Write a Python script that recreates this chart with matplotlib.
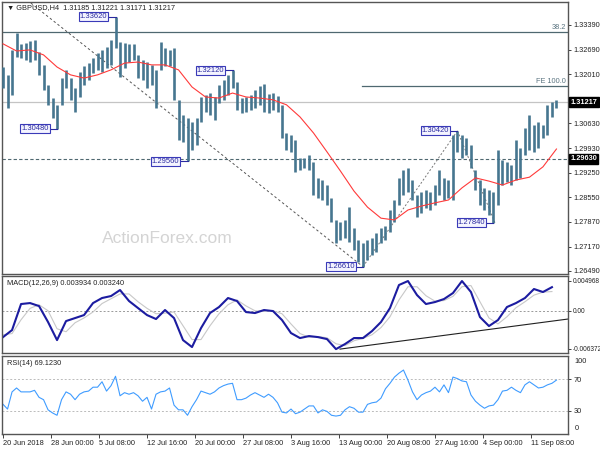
import numpy as np
import matplotlib
matplotlib.use('Agg')
from matplotlib import pyplot as plt

plt.rcParams['font.family'] = ['Liberation Sans', 'DejaVu Sans']

# GBPUSD H4 - one high/low pair every 3 bars
highs = [1.3221, 1.3199, 1.3269, 1.3316, 1.3286, 1.3288, 1.3294, 1.3297, 1.3263, 1.3227,
         1.3171, 1.3134, 1.3115, 1.3190, 1.3213, 1.3190, 1.3162, 1.3207, 1.3224, 1.3232,
         1.3246, 1.3260, 1.3269, 1.3277, 1.3297, 1.3362, 1.3291, 1.3288, 1.3286, 1.3286,
         1.3255, 1.3241, 1.3235, 1.3227, 1.3213, 1.3291, 1.3274, 1.3269, 1.3274, 1.3129,
         1.3087, 1.3078, 1.3067, 1.3078, 1.3137, 1.3143, 1.3148, 1.3137, 1.3171, 1.3185,
         1.3199, 1.3212, 1.3179, 1.3134, 1.3137, 1.3143, 1.3157, 1.3168, 1.3173, 1.3145,
         1.3148, 1.3140, 1.3115, 1.3036, 1.3030, 1.3016, 1.2966, 1.2966, 1.2974, 1.2955,
         1.2910, 1.2904, 1.2890, 1.2854, 1.2792, 1.2786, 1.2792, 1.2828, 1.2770, 1.2736,
         1.2727, 1.2736, 1.2741, 1.2755, 1.2770, 1.2775, 1.2820, 1.2848, 1.2910, 1.2932,
         1.2938, 1.2904, 1.2862, 1.2870, 1.2876, 1.2870, 1.2890, 1.2932, 1.2910, 1.2904,
         1.3030, 1.3042, 1.3030, 1.3022, 1.3002, 1.2932, 1.2904, 1.2882, 1.2876, 1.2870,
         1.2988, 1.2960, 1.2955, 1.2946, 1.3016, 1.2994, 1.3050, 1.3087, 1.3058, 1.3067,
         1.3058, 1.3115, 1.3123, 1.3129]
lows = [1.3162, 1.3106, 1.3143, 1.3249, 1.3246, 1.3241, 1.3235, 1.3241, 1.3199, 1.3157,
        1.3115, 1.3078, 1.3048, 1.3115, 1.3162, 1.3129, 1.3095, 1.3137, 1.3171, 1.3185,
        1.3204, 1.3213, 1.3207, 1.3218, 1.3227, 1.3274, 1.3193, 1.3218, 1.3235, 1.3241,
        1.3190, 1.3185, 1.3162, 1.3171, 1.3106, 1.3213, 1.3224, 1.3224, 1.3129, 1.3016,
        1.3011, 1.2956, 1.2988, 1.3002, 1.3067, 1.3095, 1.3087, 1.3072, 1.3120, 1.3129,
        1.3143, 1.3162, 1.3101, 1.3093, 1.3095, 1.3101, 1.3106, 1.3115, 1.3095, 1.3093,
        1.3101, 1.3095, 1.3022, 1.2988, 1.2983, 1.2927, 1.2932, 1.2938, 1.2932, 1.2862,
        1.2854, 1.2848, 1.2834, 1.2786, 1.2727, 1.2736, 1.2741, 1.2730, 1.2708, 1.2674,
        1.2661, 1.2680, 1.2694, 1.2702, 1.2727, 1.2736, 1.2758, 1.2786, 1.2834, 1.2862,
        1.2870, 1.2848, 1.2800, 1.2812, 1.2826, 1.2820, 1.2834, 1.2862, 1.2848, 1.2854,
        1.2848, 1.2983, 1.2966, 1.2974, 1.2938, 1.2876, 1.2834, 1.2820, 1.2806, 1.2784,
        1.2834, 1.2890, 1.2899, 1.2890, 1.2904, 1.2910, 1.2974, 1.2988, 1.2983, 1.2994,
        1.3022, 1.3030, 1.3081, 1.3106]

# moving average, one value every 9 bars
ma = [1.3286, 1.3266, 1.3269, 1.3255, 1.3221, 1.3199, 1.3190, 1.3199, 1.3213, 1.3232,
      1.3235, 1.3227, 1.3227, 1.3213, 1.3165, 1.3137, 1.3134, 1.3148, 1.3137, 1.3134,
      1.3129, 1.3115, 1.3081, 1.3036, 1.2983, 1.2929, 1.2873, 1.2828, 1.2797, 1.2792,
      1.2820, 1.2831, 1.2840, 1.2848, 1.2882, 1.2910, 1.2901, 1.2890, 1.2904, 1.2912,
      1.2941, 1.2991]

# MACD(12,26,9), one value every 6 bars
macd = [-0.00439, -0.00322, 0.00112, 0.00128, 0.00078, -0.00188, -0.00489, -0.00172, -0.00122, -0.00072,
        0.00128, 0.00212, 0.00245, 0.00345, 0.00162, 0.00045, -0.00072, -0.00138, 0.00012, -0.00122,
        -0.00489, -0.00605, -0.00289, -0.00038, 0.00062, 0.00212, 0.00162, -0.00022, -0.00038, 0.00012,
        -0.00005, -0.00155, -0.00372, -0.00455, -0.00422, -0.00439, -0.00472, -0.00639, -0.00555, -0.00455,
        -0.00455, -0.00339, -0.00188, 0.00045, 0.00429, 0.00495, 0.00262, 0.00112, 0.00145, 0.00195,
        0.00295, 0.00495, 0.00312, -0.00105, -0.00255, -0.00155, 0.00062, 0.00128, 0.00212, 0.00362,
        0.00312, 0.00393]
signal = [-0.0040, -0.0038, -0.0015, 0.0004, 0.0010, 0.0000, -0.0030, -0.0035, -0.0020, -0.0012,
          -0.0002, 0.0012, 0.0020, 0.0028, 0.0028, 0.0015, 0.0004, -0.0005, -0.0004, -0.0002,
          -0.0025, -0.0048, -0.0048, -0.0025, -0.0005, 0.0010, 0.0018, 0.0008, 0.0000, -0.0001,
          0.0000, -0.0005, -0.0022, -0.0038, -0.0044, -0.0043, -0.0045, -0.0055, -0.0058, -0.0050,
          -0.0046, -0.0040, -0.0028, -0.0010, 0.0018, 0.0040, 0.0040, 0.0025, 0.0016, 0.0017,
          0.0024, 0.0040, 0.0042, 0.0015, -0.0012, -0.0022, -0.0010, 0.0005, 0.0015, 0.0026,
          0.0031, 0.0032]

# RSI(14), one value every 3 bars
rsi = [38, 32, 54, 59, 54, 54, 54, 56, 47, 44,
       31, 27, 24, 44, 54, 51, 44, 51, 54, 55,
       60, 60, 67, 55, 62, 74, 49, 53, 51, 53,
       49, 42, 47, 32, 51, 54, 55, 59, 37, 31,
       31, 24, 35, 44, 55, 53, 51, 54, 59, 62,
       64, 65, 44, 44, 46, 50, 53, 50, 47, 51,
       47, 40, 28, 27, 32, 26, 28, 32, 36, 36,
       27, 31, 29, 24, 23, 24, 31, 35, 33, 28,
       28, 38, 40, 41, 46, 58, 65, 73, 78, 82,
       69, 54, 44, 50, 53, 55, 60, 54, 63, 53,
       73, 71, 68, 67, 50, 42, 37, 33, 36, 37,
       44, 55, 56, 60, 56, 53, 63, 67, 63, 59,
       60, 63, 65, 69.1]

tick_labels = ['20 Jun 2018', '28 Jun 00:00', '5 Jul 08:00', '12 Jul 16:00', '20 Jul 00:00',
               '27 Jul 08:00', '3 Aug 16:00', '13 Aug 00:00', '20 Aug 08:00', '27 Aug 16:00',
               '4 Sep 00:00', '11 Sep 08:00']
price_ticks = [1.26490, 1.27170, 1.27870, 1.28550, 1.29250, 1.29930, 1.30630,
               1.31310, 1.32010, 1.32690, 1.33390]

# swing labels: (bar, price)
swings = [(75, 1.33620), (36, 1.30480), (123, 1.29560), (153, 1.32120),
          (240, 1.26610), (303, 1.30420), (327, 1.27840)]
last_price = 1.31217
support = 1.29630
fib382 = 1.33190
fe100 = 1.31680

bars = np.arange(len(highs)) * 3
ma_bars = np.arange(len(ma)) * 9
macd_bars = np.arange(len(macd)) * 6
xlim = (-0.7, 376.7)

fig = plt.figure(figsize=(6, 4.5), dpi=100)
ax1 = fig.add_axes([2/600, 1-274/450, 566/600, 272/450])
ax2 = fig.add_axes([2/600, 1-353/450, 566/600, 77/450])
ax3 = fig.add_axes([2/600, 1-434/450, 566/600, 78/450])

frame = '#555555'
lab = 5.3
for ax in (ax1, ax2, ax3):
    ax.set_xlim(*xlim)
    for s in ax.spines.values():
        s.set_color(frame)
        s.set_linewidth(1.0)
    ax.yaxis.tick_right()
    ax.tick_params(axis='y', labelsize=lab, length=2.5, width=0.6, pad=1.5, colors='#222222')
    ax.tick_params(axis='x', bottom=False, labelbottom=False)

# ---- main price panel
ax1.set_ylim(1.26404, 1.34034)
ax1.set_yticks(price_ticks)
ax1.set_yticklabels(['%.5f' % p for p in price_ticks])

ax1.text(0.293, 0.132, 'ActionForex.com', transform=ax1.transAxes, fontsize=12.5,
         color='#d4d4d4', ha='center', va='center', zorder=0)

ax1.axhline(fib382, color='#4f6870', lw=0.9)
ax1.text(xlim[1] - 1.5, fib382 + 0.0002, '38.2', fontsize=5.3, color='#5a7480', ha='right', va='bottom')
ax1.plot([239.3, xlim[1]], [fe100, fe100], color='#4f6870', lw=0.9)
ax1.text(xlim[1] - 1.5, fe100 + 0.0002, 'FE 100.0', fontsize=5.3, color='#5a7480', ha='right', va='bottom')
ax1.axhline(last_price, color='#c4c4c4', lw=0.9)
ax1.axhline(support, color='#4f6870', lw=0.8, ls=(0, (3, 2)))

# fibo helper lines
ax1.plot([16, 240], [1.3409, 1.2661], color='#555555', lw=0.7, ls=(0, (2.5, 2.5)))
ax1.plot([240, 303], [1.2661, 1.3042], color='#777777', lw=0.7, ls=(0, (2, 2)))
ax1.plot([303, 328], [1.3042, 1.2784], color='#777777', lw=0.7, ls=(0, (2, 2)))

ax1.vlines(bars, lows, highs, color='#46768f', lw=1.9, zorder=3)
ax1.plot(ma_bars, ma, color='#ff3a3a', lw=0.8, zorder=4)

for b, p in swings:
    ax1.plot([b - 5, b], [p, p], color='#2a2aa0', lw=0.8, zorder=5)
    ax1.text(b - 5.5, p, '%.5f' % p, fontsize=5.5, color='#2a2aa0', ha='right', va='center',
             zorder=6, bbox=dict(boxstyle='square,pad=0.15', fc='#f4f4ff', ec='#3a3ab8', lw=0.8))

ax1.text(0.009, 0.978, '\u25bc GBPUSD,H4  1.31185 1.31221 1.31171 1.31217', transform=ax1.transAxes,
         fontsize=5.3, color='#222222', va='center', ha='left')

yt = ax1.get_yaxis_transform()
for p in (last_price, support):
    ax1.text(1.004, p, '%.5f' % p, transform=yt, fontsize=5.3, color='white', fontweight='bold',
             ha='left', va='center', clip_on=False, zorder=10,
             bbox=dict(boxstyle='square,pad=0.2', fc='black', ec='black'))

# ---- MACD panel
ax2.set_ylim(-0.00704, 0.00579)
ax2.set_yticks([-0.006372, 0.0, 0.004968])
ax2.set_yticklabels(['-0.006372', '0.00', '0.004968'])
ax2.tick_params(axis='y', labelsize=4.7, pad=1.0)
ax2.axhline(0, color='#999999', lw=0.7, ls=(0, (2, 2)))
ax2.plot(macd_bars, signal, color='#c8c8c8', lw=0.8)
ax2.plot(macd_bars, macd, color='#1c1ca0', lw=1.5)
ax2.plot([224.7, xlim[1]], [-0.00639, -0.00138], color='#202020', lw=0.8)
ax2.text(0.009, 0.9, 'MACD(12,26,9) 0.003934 0.003240', transform=ax2.transAxes,
         fontsize=5.3, color='#222222', va='center')

# ---- RSI panel
ax3.set_ylim(0, 100)
ax3.set_yticks([30, 70])
ax3.set_yticklabels(['30', '70'])
ax3.text(1.012, 93, '100', transform=ax3.get_yaxis_transform(), fontsize=lab, va='center', color='#222222')
ax3.text(1.012, 7, '0', transform=ax3.get_yaxis_transform(), fontsize=lab, va='center', color='#222222')
for lvl in (30, 70):
    ax3.axhline(lvl, color='#bbbbbb', lw=0.7, ls=(0, (2, 2)))
ax3.plot(bars, rsi, color='#3f9cff', lw=0.8)
ax3.text(0.009, 0.9, 'RSI(14) 69.1230', transform=ax3.transAxes, fontsize=5.3, color='#222222', va='center')

ax3.tick_params(axis='x', bottom=True, labelbottom=True, labelsize=lab, length=3, width=0.6,
                pad=1.5, colors='#222222')
ax3.set_xticks(np.arange(len(tick_labels)) * 32)
ax3.set_xticklabels(tick_labels, ha='left')

fig.savefig('out.png', dpi=100, facecolor='white')
